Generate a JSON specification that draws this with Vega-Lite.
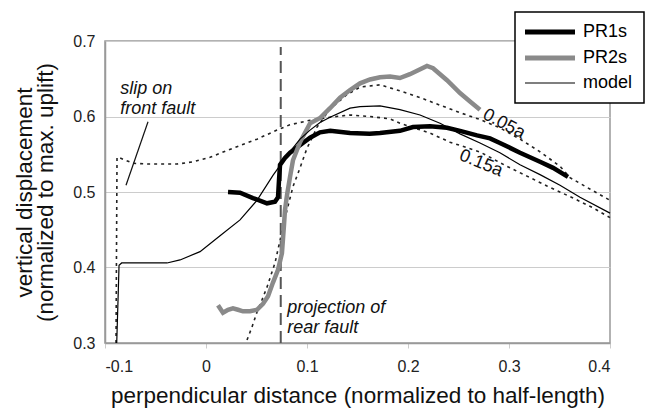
{
  "$schema": "https://vega.github.io/schema/vega-lite/v6.json",
  "width": 505,
  "height": 302,
  "autosize": {"type": "none"},
  "padding": {"left": 105, "top": 41, "right": 41, "bottom": 65},
  "background": "white",
  "datasets": {
    "series": [
      {"s": "PR1s", "x": 0.0218, "y": 0.500}, {"s": "PR1s", "x": 0.0337, "y": 0.499}, {"s": "PR1s", "x": 0.0465, "y": 0.492},
      {"s": "PR1s", "x": 0.0604, "y": 0.485}, {"s": "PR1s", "x": 0.0683, "y": 0.487}, {"s": "PR1s", "x": 0.0713, "y": 0.493},
      {"s": "PR1s", "x": 0.0723, "y": 0.516}, {"s": "PR1s", "x": 0.0733, "y": 0.536}, {"s": "PR1s", "x": 0.0782, "y": 0.545},
      {"s": "PR1s", "x": 0.0832, "y": 0.552}, {"s": "PR1s", "x": 0.093, "y": 0.562}, {"s": "PR1s", "x": 0.103, "y": 0.572},
      {"s": "PR1s", "x": 0.1129, "y": 0.579}, {"s": "PR1s", "x": 0.123, "y": 0.581}, {"s": "PR1s", "x": 0.1426, "y": 0.578},
      {"s": "PR1s", "x": 0.162, "y": 0.577}, {"s": "PR1s", "x": 0.1723, "y": 0.578}, {"s": "PR1s", "x": 0.192, "y": 0.581},
      {"s": "PR1s", "x": 0.205, "y": 0.586}, {"s": "PR1s", "x": 0.2218, "y": 0.587}, {"s": "PR1s", "x": 0.2386, "y": 0.585},
      {"s": "PR1s", "x": 0.2515, "y": 0.581}, {"s": "PR1s", "x": 0.2683, "y": 0.575}, {"s": "PR1s", "x": 0.2812, "y": 0.571},
      {"s": "PR1s", "x": 0.291, "y": 0.565}, {"s": "PR1s", "x": 0.3109, "y": 0.552}, {"s": "PR1s", "x": 0.3307, "y": 0.540},
      {"s": "PR1s", "x": 0.3436, "y": 0.532}, {"s": "PR1s", "x": 0.3584, "y": 0.520},

      {"s": "PR2s", "x": 0.0119, "y": 0.350}, {"s": "PR2s", "x": 0.0168, "y": 0.340}, {"s": "PR2s", "x": 0.0218, "y": 0.344},
      {"s": "PR2s", "x": 0.0267, "y": 0.346}, {"s": "PR2s", "x": 0.0317, "y": 0.344}, {"s": "PR2s", "x": 0.0366, "y": 0.342},
      {"s": "PR2s", "x": 0.0436, "y": 0.342}, {"s": "PR2s", "x": 0.0505, "y": 0.344}, {"s": "PR2s", "x": 0.0564, "y": 0.352},
      {"s": "PR2s", "x": 0.0614, "y": 0.362}, {"s": "PR2s", "x": 0.0663, "y": 0.380}, {"s": "PR2s", "x": 0.0713, "y": 0.397},
      {"s": "PR2s", "x": 0.0752, "y": 0.419}, {"s": "PR2s", "x": 0.0772, "y": 0.456}, {"s": "PR2s", "x": 0.0782, "y": 0.476},
      {"s": "PR2s", "x": 0.0802, "y": 0.496}, {"s": "PR2s", "x": 0.0832, "y": 0.520}, {"s": "PR2s", "x": 0.0861, "y": 0.542},
      {"s": "PR2s", "x": 0.0931, "y": 0.566}, {"s": "PR2s", "x": 0.103, "y": 0.591}, {"s": "PR2s", "x": 0.1129, "y": 0.598},
      {"s": "PR2s", "x": 0.1228, "y": 0.611}, {"s": "PR2s", "x": 0.1327, "y": 0.625}, {"s": "PR2s", "x": 0.1426, "y": 0.635},
      {"s": "PR2s", "x": 0.1525, "y": 0.644}, {"s": "PR2s", "x": 0.1624, "y": 0.649}, {"s": "PR2s", "x": 0.1723, "y": 0.652},
      {"s": "PR2s", "x": 0.1822, "y": 0.653}, {"s": "PR2s", "x": 0.192, "y": 0.651}, {"s": "PR2s", "x": 0.2019, "y": 0.656},
      {"s": "PR2s", "x": 0.2188, "y": 0.667}, {"s": "PR2s", "x": 0.2248, "y": 0.664}, {"s": "PR2s", "x": 0.2386, "y": 0.648},
      {"s": "PR2s", "x": 0.2515, "y": 0.631}, {"s": "PR2s", "x": 0.2614, "y": 0.620}, {"s": "PR2s", "x": 0.2713, "y": 0.609},

      {"s": "model", "x": -0.0884, "y": 0.300}, {"s": "model", "x": -0.0871, "y": 0.357}, {"s": "model", "x": -0.0861, "y": 0.403},
      {"s": "model", "x": -0.0835, "y": 0.406}, {"s": "model", "x": -0.0386, "y": 0.406}, {"s": "model", "x": -0.0257, "y": 0.410},
      {"s": "model", "x": -0.0059, "y": 0.421}, {"s": "model", "x": 0.0139, "y": 0.442}, {"s": "model", "x": 0.0337, "y": 0.463},
      {"s": "model", "x": 0.0505, "y": 0.489}, {"s": "model", "x": 0.0663, "y": 0.522}, {"s": "model", "x": 0.083, "y": 0.553},
      {"s": "model", "x": 0.0931, "y": 0.570}, {"s": "model", "x": 0.103, "y": 0.582}, {"s": "model", "x": 0.1129, "y": 0.592},
      {"s": "model", "x": 0.1228, "y": 0.599}, {"s": "model", "x": 0.1426, "y": 0.611}, {"s": "model", "x": 0.1525, "y": 0.613},
      {"s": "model", "x": 0.1723, "y": 0.614}, {"s": "model", "x": 0.192, "y": 0.609}, {"s": "model", "x": 0.2119, "y": 0.602},
      {"s": "model", "x": 0.2317, "y": 0.591}, {"s": "model", "x": 0.2515, "y": 0.577}, {"s": "model", "x": 0.2713, "y": 0.565},
      {"s": "model", "x": 0.291, "y": 0.552}, {"s": "model", "x": 0.3109, "y": 0.536}, {"s": "model", "x": 0.3307, "y": 0.523},
      {"s": "model", "x": 0.3505, "y": 0.509}, {"s": "model", "x": 0.3703, "y": 0.493}, {"s": "model", "x": 0.4, "y": 0.472}
    ],
    "bounds": [
      {"c": "0.15a", "x": -0.0891, "y": 0.300}, {"c": "0.15a", "x": -0.0881, "y": 0.546}, {"c": "0.15a", "x": -0.0851, "y": 0.545},
      {"c": "0.15a", "x": -0.0723, "y": 0.538}, {"c": "0.15a", "x": -0.0554, "y": 0.537}, {"c": "0.15a", "x": -0.0287, "y": 0.537},
      {"c": "0.15a", "x": -0.0129, "y": 0.540}, {"c": "0.15a", "x": 0.004, "y": 0.546}, {"c": "0.15a", "x": 0.0267, "y": 0.558},
      {"c": "0.15a", "x": 0.0505, "y": 0.570}, {"c": "0.15a", "x": 0.0703, "y": 0.582}, {"c": "0.15a", "x": 0.083, "y": 0.589},
      {"c": "0.15a", "x": 0.103, "y": 0.595}, {"c": "0.15a", "x": 0.1228, "y": 0.599}, {"c": "0.15a", "x": 0.1426, "y": 0.602},
      {"c": "0.15a", "x": 0.162, "y": 0.600}, {"c": "0.15a", "x": 0.182, "y": 0.597}, {"c": "0.15a", "x": 0.192, "y": 0.591},
      {"c": "0.15a", "x": 0.2218, "y": 0.578}, {"c": "0.15a", "x": 0.2416, "y": 0.566}, {"c": "0.15a", "x": 0.2713, "y": 0.553},
      {"c": "0.15a", "x": 0.298, "y": 0.534}, {"c": "0.15a", "x": 0.3178, "y": 0.521}, {"c": "0.15a", "x": 0.3376, "y": 0.508},
      {"c": "0.15a", "x": 0.3634, "y": 0.492}, {"c": "0.15a", "x": 0.3832, "y": 0.479}, {"c": "0.15a", "x": 0.4, "y": 0.466},

      {"c": "0.05a", "x": 0.0406, "y": 0.304}, {"c": "0.05a", "x": 0.0455, "y": 0.321}, {"c": "0.05a", "x": 0.0505, "y": 0.341},
      {"c": "0.05a", "x": 0.0554, "y": 0.357}, {"c": "0.05a", "x": 0.0604, "y": 0.374}, {"c": "0.05a", "x": 0.0683, "y": 0.406},
      {"c": "0.05a", "x": 0.0733, "y": 0.436}, {"c": "0.05a", "x": 0.0772, "y": 0.460}, {"c": "0.05a", "x": 0.0802, "y": 0.476},
      {"c": "0.05a", "x": 0.0861, "y": 0.507}, {"c": "0.05a", "x": 0.0931, "y": 0.532}, {"c": "0.05a", "x": 0.1, "y": 0.558},
      {"c": "0.05a", "x": 0.1059, "y": 0.574}, {"c": "0.05a", "x": 0.1099, "y": 0.586}, {"c": "0.05a", "x": 0.1228, "y": 0.610},
      {"c": "0.05a", "x": 0.1396, "y": 0.629}, {"c": "0.05a", "x": 0.1525, "y": 0.639}, {"c": "0.05a", "x": 0.1723, "y": 0.642},
      {"c": "0.05a", "x": 0.192, "y": 0.634}, {"c": "0.05a", "x": 0.212, "y": 0.625}, {"c": "0.05a", "x": 0.2317, "y": 0.615},
      {"c": "0.05a", "x": 0.2515, "y": 0.605}, {"c": "0.05a", "x": 0.2713, "y": 0.596}, {"c": "0.05a", "x": 0.291, "y": 0.585},
      {"c": "0.05a", "x": 0.311, "y": 0.570}, {"c": "0.05a", "x": 0.331, "y": 0.553}, {"c": "0.05a", "x": 0.3505, "y": 0.534},
      {"c": "0.05a", "x": 0.3604, "y": 0.519}, {"c": "0.05a", "x": 0.38, "y": 0.504}, {"c": "0.05a", "x": 0.4, "y": 0.489}
    ],
    "rearFault": [{"x": 0.074, "y": 0.3, "y2": 0.692}],
    "pointer": [{"x": -0.0574, "y": 0.593, "x2": -0.0792, "y2": 0.509}],
    "notes": [
      {"x": -0.085, "y": 0.630, "t": "slip on\nfront fault"},
      {"x": 0.0805, "y": 0.340, "t": "projection of\nrear fault"}
    ],
    "curveLabels": [
      {"x": 0.295, "y": 0.590, "t": "0.05a", "a": 28},
      {"x": 0.2723, "y": 0.538, "t": "0.15a", "a": 22}
    ]
  },
  "layer": [
    {
      "data": {"name": "rearFault"},
      "mark": {"type": "rule", "color": "#555", "strokeWidth": 2, "strokeDash": [12, 6]},
      "encoding": {
        "x": {"field": "x", "type": "quantitative"},
        "y": {"field": "y", "type": "quantitative"},
        "y2": {"field": "y2"}
      }
    },
    {
      "data": {"name": "bounds"},
      "mark": {"type": "line", "color": "#222", "strokeWidth": 1.6, "strokeDash": [3, 4]},
      "encoding": {
        "x": {"field": "x", "type": "quantitative"},
        "y": {"field": "y", "type": "quantitative"},
        "detail": {"field": "c"}
      }
    },
    {
      "data": {"name": "series"},
      "mark": {"type": "line"},
      "encoding": {
        "x": {
          "field": "x", "type": "quantitative",
          "scale": {"domain": [-0.1, 0.4], "nice": false, "zero": false},
          "axis": {
            "values": [-0.1, 0, 0.1, 0.2, 0.3, 0.4],
            "labelExpr": "'' + datum.value",
            "grid": false,
            "tickSize": 5,
            "tickColor": "#ccc",
            "labelPadding": 10,
            "titlePadding": 10,
            "title": "perpendicular distance (normalized to half-length)"
          }
        },
        "y": {
          "field": "y", "type": "quantitative",
          "scale": {"domain": [0.3, 0.7], "nice": false, "zero": false},
          "axis": {
            "values": [0.3, 0.4, 0.5, 0.6, 0.7],
            "labelExpr": "'' + datum.value",
            "grid": true,
            "tickSize": 0,
            "labelPadding": 10,
            "titlePadding": 15,
            "titleLineHeight": 21,
            "title": ["vertical displacement", "(normalized to max. uplift)"]
          }
        },
        "color": {
          "field": "s", "type": "nominal",
          "scale": {"domain": ["PR1s", "PR2s", "model"], "range": ["#000000", "#8a8a8a", "#000000"]},
          "legend": {
            "title": null,
            "encode": {
              "symbols": {
                "update": {
                  "strokeWidth": {"signal": "datum.label === 'model' ? 1.2 : 5"}
                }
              }
            }
          }
        },
        "strokeWidth": {
          "condition": {"test": "datum.s === 'model'", "value": 1.2},
          "value": 4.5
        },
        "order": {"field": "x", "type": "quantitative"}
      }
    },
    {
      "data": {"name": "pointer"},
      "mark": {"type": "rule", "color": "#111", "strokeWidth": 1.2},
      "encoding": {
        "x": {"field": "x", "type": "quantitative"},
        "y": {"field": "y", "type": "quantitative"},
        "x2": {"field": "x2"},
        "y2": {"field": "y2"}
      }
    },
    {
      "data": {"name": "notes"},
      "mark": {"type": "text", "font": "Liberation Sans", "fontSize": 18, "fontStyle": "italic", "align": "left", "baseline": "alphabetic", "lineBreak": "\n", "lineHeight": 20, "color": "#111"},
      "encoding": {
        "x": {"field": "x", "type": "quantitative"},
        "y": {"field": "y", "type": "quantitative"},
        "text": {"field": "t"}
      }
    },
    {
      "data": {"name": "curveLabels"},
      "mark": {"type": "text", "font": "Liberation Sans", "fontSize": 18, "align": "center", "baseline": "middle", "color": "#111"},
      "encoding": {
        "x": {"field": "x", "type": "quantitative"},
        "y": {"field": "y", "type": "quantitative"},
        "text": {"field": "t"},
        "angle": {"field": "a", "type": "quantitative", "scale": null}
      }
    }
  ],
  "config": {
    "view": {"stroke": "#999", "strokeWidth": 1.5},
    "axis": {
      "domainColor": "#999",
      "domainWidth": 1.5,
      "gridColor": "#ccc",
      "gridWidth": 1.2,
      "labelFont": "Liberation Sans",
      "labelFontSize": 16,
      "labelColor": "#222",
      "titleFont": "Liberation Sans",
      "titleFontSize": 22.5,
      "titleFontWeight": "normal",
      "titleColor": "#111"
    },
    "legend": {
      "orient": "none",
      "legendX": 410,
      "legendY": -29,
      "strokeColor": "#000",
      "strokeWidth": 1.5,
      "fillColor": "white",
      "padding": 11,
      "symbolType": "M-1,0H4",
      "symbolSize": 400,
      "symbolOffset": 0,
      "labelFont": "Liberation Sans",
      "labelFontSize": 18,
      "labelColor": "#000",
      "labelOffset": 39,
      "rowPadding": 6
    }
  }
}
